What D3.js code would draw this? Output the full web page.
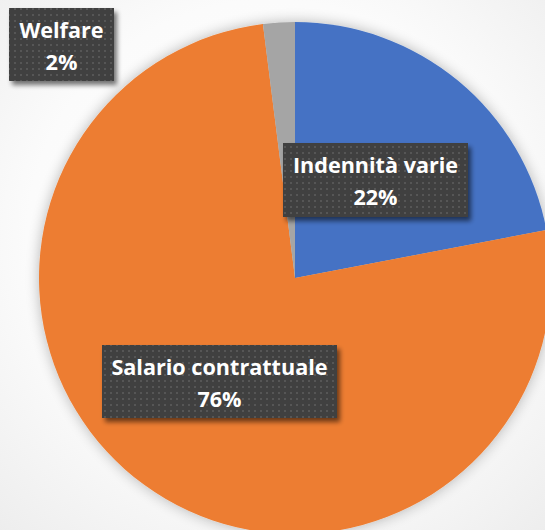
<!DOCTYPE html>
<html>
<head>
<meta charset="utf-8">
<script src="https://cdn.jsdelivr.net/npm/d3@7"></script>
<style>
html,body{margin:0;padding:0;background:#fff;}
svg{display:block;}
</style>
</head>
<body>
<div id="chart"></div>
<script>
const categories = ["Indennità varie", "Salario contrattuale", "Welfare"];
const values = [22, 76, 2];
const percentLabels = ["22%", "76%", "2%"];
const colors = ["#4472C4", "#ED7D31", "#A5A5A5"];

const W = 545, H = 530;
const cx = 295, cy = 278, R = 256;

const svg = d3.select("#chart").append("svg")
  .attr("width", W).attr("height", H);

const defs = svg.append("defs");
const bg = defs.append("radialGradient").attr("id", "bg")
  .attr("cx", "50%").attr("cy", "45%").attr("r", "75%");
bg.append("stop").attr("offset", "0%").attr("stop-color", "#ffffff");
bg.append("stop").attr("offset", "60%").attr("stop-color", "#fbfbfb");
bg.append("stop").attr("offset", "100%").attr("stop-color", "#ededed");

const pieShadow = defs.append("filter").attr("id", "pieShadow")
  .attr("x", "-20%").attr("y", "-20%").attr("width", "140%").attr("height", "140%");
pieShadow.append("feGaussianBlur").attr("in", "SourceAlpha").attr("stdDeviation", 7).attr("result", "b");
pieShadow.append("feComponentTransfer").attr("in", "b").attr("result", "b2")
  .append("feFuncA").attr("type", "linear").attr("slope", 0.28);
const pm = pieShadow.append("feMerge");
pm.append("feMergeNode").attr("in", "b2");
pm.append("feMergeNode").attr("in", "SourceGraphic");

const boxShadow = defs.append("filter").attr("id", "boxShadow")
  .attr("x", "-20%").attr("y", "-30%").attr("width", "150%").attr("height", "170%");
boxShadow.append("feGaussianBlur").attr("in", "SourceAlpha").attr("stdDeviation", 2.5).attr("result", "b");
boxShadow.append("feOffset").attr("in", "b").attr("dx", 3).attr("dy", 4).attr("result", "o");
boxShadow.append("feComponentTransfer").attr("in", "o").attr("result", "o2")
  .append("feFuncA").attr("type", "linear").attr("slope", 0.55);
const bm = boxShadow.append("feMerge");
bm.append("feMergeNode").attr("in", "o2");
bm.append("feMergeNode").attr("in", "SourceGraphic");

const pat = defs.append("pattern").attr("id", "dots")
  .attr("patternUnits", "userSpaceOnUse").attr("width", 6).attr("height", 6);
pat.append("rect").attr("width", 6).attr("height", 6).attr("fill", "#404040");
pat.append("rect").attr("x", 2).attr("y", 2).attr("width", 2).attr("height", 2).attr("fill", "#575757");

svg.append("rect").attr("width", W).attr("height", H).attr("fill", "url(#bg)");

const pie = d3.pie().sort(null).value(d => d)(values);
const arc = d3.arc().innerRadius(0).outerRadius(R);

const g = svg.append("g").attr("transform", `translate(${cx},${cy})`);
g.append("g").attr("filter", "url(#pieShadow)")
  .selectAll("path").data(pie).join("path")
  .attr("d", arc)
  .attr("fill", (d, i) => colors[i]);

// label boxes (absolute positions in the picture)
const boxes = [
  {x: 283, y: 143, w: 185, h: 74},
  {x: 102, y: 345, w: 235, h: 73},
  {x: 9,   y: 8,   w: 105, h: 73}
];

const lg = svg.append("g");
boxes.forEach((b, i) => {
  const gg = lg.append("g");
  gg.append("rect").attr("x", b.x).attr("y", b.y).attr("width", b.w).attr("height", b.h)
    .attr("fill", "url(#dots)").attr("filter", "url(#boxShadow)");
  const t = gg.append("text")
    .attr("text-anchor", "middle")
    .attr("font-family", "'Open Sans', Lato, sans-serif")
    .attr("font-weight", 700)
    .attr("font-size", 21.6)
    .attr("fill", "#ffffff");
  t.append("tspan").attr("x", b.x + b.w / 2).attr("y", b.y + 30).text(categories[i]);
  t.append("tspan").attr("x", b.x + b.w / 2).attr("y", b.y + 62).text(percentLabels[i]);
});
</script>
</body>
</html>
